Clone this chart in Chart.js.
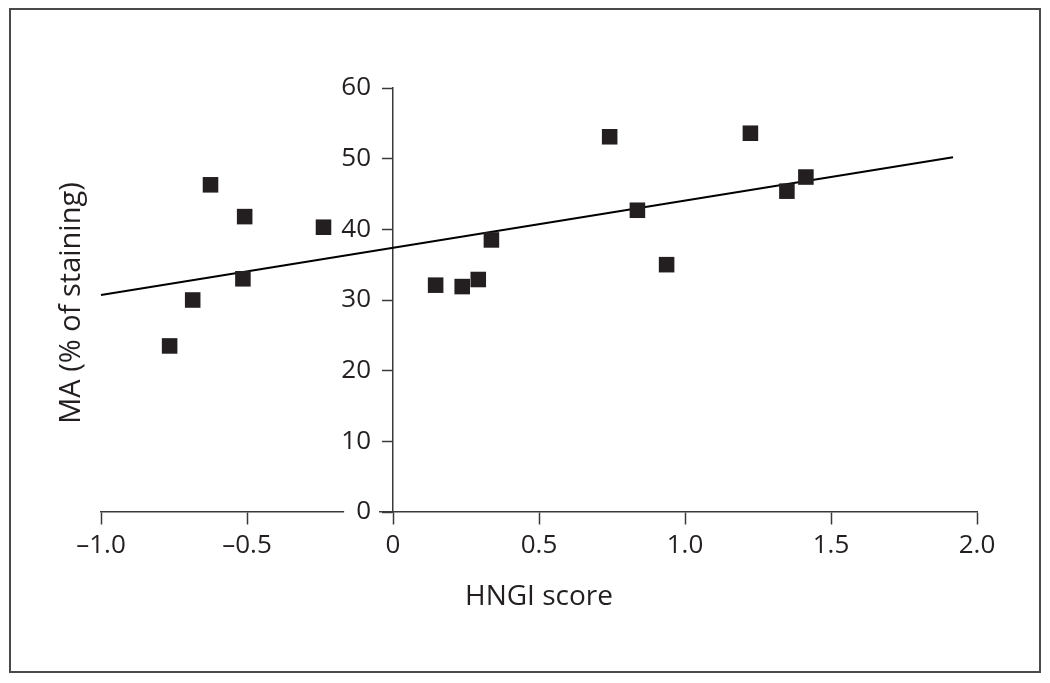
<!DOCTYPE html>
<html>
<head>
<meta charset="utf-8">
<script src="https://cdn.jsdelivr.net/npm/chart.js@4.4.1/dist/chart.umd.min.js"></script>
<style>
  html, body { margin: 0; padding: 0; background: #fff; }
  #wrap { position: relative; width: 1050px; height: 683px; }
  #frame {
    position: absolute; left: 9px; top: 8px; width: 1028px; height: 661px;
    border: 2px solid #4a4a4a;
  }
  #chart { position: absolute; left: 0; top: 0; }
</style>
</head>
<body>
<div id="wrap">
  <div id="frame"></div>
  <canvas id="chart" width="1050" height="683"></canvas>
</div>
<script>
// HNGI score vs MA (% of staining)
const hngiScores = [-0.765, -0.686, -0.625, -0.508, -0.514, -0.238, 0.146, 0.237, 0.292, 0.337, 0.742, 0.837, 0.937, 1.224, 1.349, 1.414];
const maValues   = [23.5, 30.0, 46.3, 41.8, 33.0, 40.3, 32.1, 31.9, 32.9, 38.5, 53.1, 42.7, 35.0, 53.6, 45.4, 47.4];

// regression line end points
const fitX = [-1.0, 1.918];
const fitY = [30.7, 50.2];

const xTicks = [-1.0, -0.5, 0, 0.5, 1.0, 1.5, 2.0];
const yTicks = [0, 10, 20, 30, 40, 50, 60];

const xTitle = 'HNGI score';
const yTitle = 'MA (% of staining)';

const INK = '#231f20';
const AXIS = '#3a3a3a';
const FONT = '"Open Sans", "Noto Sans", sans-serif';
const Y_LABEL_SHIFT = 22;

function formatX(value) {
  if (value === 0) return '0';
  const s = Math.abs(value).toFixed(1);
  return value < 0 ? '\u2013' + s : s;
}

// y axis sits at x = 0, so chart.js puts its labels right on the line; push them left
const shiftYLabels = {
  id: 'shiftYLabels',
  afterLayout(chart) {
    const scale = chart.scales.y;
    scale.getLabelItems(chart.chartArea).forEach(item => {
      item.options.translation[0] -= Y_LABEL_SHIFT;
    });
  },
};

const axisTitles = {
  id: 'axisTitles',
  afterDraw(chart) {
    const { ctx, chartArea } = chart;
    ctx.save();
    ctx.fillStyle = INK;
    ctx.textAlign = 'center';
    ctx.textBaseline = 'alphabetic';
    ctx.font = '28px ' + FONT;
    ctx.fillText(xTitle, (chartArea.left + chartArea.right) / 2, 605);
    ctx.font = '29px ' + FONT;
    ctx.translate(80, (chartArea.top + chartArea.bottom) / 2 + 3);
    ctx.rotate(-Math.PI / 2);
    ctx.fillText(yTitle, 0, 0);
    ctx.restore();
  },
};

new Chart(document.getElementById('chart'), {
  data: {
    datasets: [
      {
        type: 'scatter',
        data: hngiScores.map((x, i) => ({ x, y: maValues[i] })),
        pointStyle: 'rect',
        pointRadius: 11,
        pointHoverRadius: 11,
        backgroundColor: INK,
        borderColor: INK,
        borderWidth: 0,
        clip: false,
      },
      {
        type: 'line',
        data: fitX.map((x, i) => ({ x, y: fitY[i] })),
        borderColor: '#000',
        borderWidth: 2,
        pointRadius: 0,
        fill: false,
        clip: false,
      },
    ],
  },
  options: {
    responsive: false,
    animation: false,
    events: [],
    layout: { padding: { left: 101, top: 88, right: 73, bottom: 171 } },
    plugins: { legend: { display: false }, tooltip: { enabled: false } },
    scales: {
      x: {
        type: 'linear',
        position: { y: 0 },
        min: -1, max: 2,
        afterFit(scale) { scale.height = 0; },
        afterBuildTicks(scale) { scale.ticks = xTicks.map(v => ({ value: v })); },
        grid: { drawOnChartArea: false, drawTicks: true, tickLength: 12, tickWidth: 1.5, color: AXIS },
        border: { display: true, color: AXIS, width: 1.5 },
        ticks: {
          color: INK,
          padding: 6,
          font: { family: FONT, size: 26 },
          callback: v => formatX(v),
        },
      },
      y: {
        type: 'linear',
        position: { x: 0 },
        min: 0, max: 60,
        afterFit(scale) { scale.width = 0; },
        afterBuildTicks(scale) { scale.ticks = yTicks.map(v => ({ value: v })); },
        grid: { drawOnChartArea: false, drawTicks: true, tickLength: 10, tickWidth: 1.5, color: AXIS },
        border: { display: true, color: AXIS, width: 1.5 },
        ticks: {
          color: INK,
          z: 1,
          font: { family: FONT, size: 26 },
          showLabelBackdrop: true,
          backdropColor: ctx => (ctx.tick && ctx.tick.value === 0 ? '#fff' : 'rgba(0,0,0,0)'),
          backdropPadding: { left: 12, right: 8, top: 0, bottom: 0 },
          callback: v => String(v),
        },
      },
    },
  },
  plugins: [shiftYLabels, axisTitles],
});
</script>
</body>
</html>
